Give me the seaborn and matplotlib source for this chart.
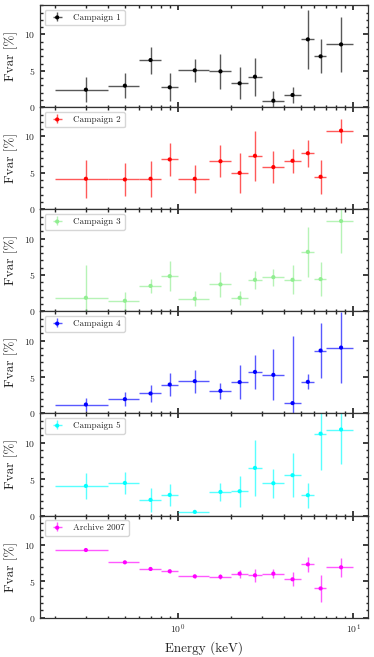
import matplotlib
matplotlib.use("Agg")
import matplotlib.pyplot as plt
from matplotlib.ticker import MultipleLocator
from matplotlib.legend_handler import HandlerTuple
import seaborn as sns

energy = [0.3, 0.5, 0.7, 0.9, 1.25, 1.75, 2.25, 2.75, 3.5, 4.5, 5.5, 6.5, 8.5]
energy_halfwidth = [0.1, 0.1, 0.1, 0.1, 0.25, 0.25, 0.25, 0.25, 0.5, 0.5, 0.5, 0.5, 1.5]

labels = ["Campaign 1", "Campaign 2", "Campaign 3", "Campaign 4", "Campaign 5", "Archive 2007"]
colors = ["black", "red", "lightgreen", "blue", "cyan", "magenta"]

fvar_c1 = [2.42, 2.97, 6.48, 2.74, 5.07, 4.93, 3.29, 4.2, 0.91, 1.69, 9.32, 6.99, 8.63]
err_c1 = [1.7, 1.75, 1.85, 1.9, 1.55, 2.45, 2.2, 2.6, 1.3, 1.05, 4.0, 2.35, 3.75]

fvar_c2 = [4.2, 4.1, 4.2, 6.85, 4.2, 6.6, 5.0, 7.35, 5.8, 6.67, 7.7, 4.47, 10.8]
err_c2 = [2.6, 2.3, 2.5, 2.3, 1.95, 2.2, 2.7, 3.4, 2.15, 1.65, 1.85, 2.3, 1.65]

fvar_c3 = [1.87, 1.46, 3.5, 4.84, 1.74, 3.7, 1.87, 4.34, 4.7, 4.34, 8.17, 4.43, 12.4]
err_c3 = [4.5, 1.2, 1.0, 2.1, 1.0, 1.75, 0.95, 1.2, 1.15, 2.0, 3.45, 2.3, 4.4]

fvar_c4 = [1.23, 1.96, 2.74, 3.97, 4.43, 3.1, 4.3, 5.7, 5.3, 1.42, 4.34, 8.63, 9.04]
err_c4 = [0.9, 0.95, 1.2, 1.6, 1.6, 1.05, 2.35, 2.35, 3.5, 9.2, 1.05, 3.8, 4.9]

fvar_c5 = [4.06, 4.47, 2.15, 2.83, 0.5, 3.24, 3.33, 6.53, 4.43, 5.53, 2.79, 11.23, 11.8]
err_c5 = [1.75, 1.45, 1.6, 1.5, 0.1, 1.25, 2.15, 3.85, 2.0, 3.05, 1.7, 5.0, 4.8]

fvar_a7 = [9.27, 7.58, 6.67, 6.35, 5.66, 5.6, 6.03, 5.8, 6.03, 5.25, 7.3, 4.0, 6.9]
err_a7 = [0.1, 0.15, 0.2, 0.3, 0.2, 0.35, 0.55, 0.9, 0.65, 0.95, 1.0, 1.85, 1.3]

fvars = [fvar_c1, fvar_c2, fvar_c3, fvar_c4, fvar_c5, fvar_a7]
errs = [err_c1, err_c2, err_c3, err_c4, err_c5, err_a7]

sns.set_theme(style="ticks")
plt.rcParams.update({
    "font.family": ["cmr10", "DejaVu Serif"],
    "mathtext.fontset": "cm",
    "axes.formatter.use_mathtext": True,
    "xtick.direction": "in",
    "ytick.direction": "in",
    "xtick.top": True,
    "ytick.right": True,
    "xtick.major.size": 3.5,
    "ytick.major.size": 3.5,
    "xtick.minor.size": 1.8,
    "ytick.minor.size": 1.8,
    "xtick.labelsize": 7,
    "ytick.labelsize": 7,
    "axes.edgecolor": "0.2",
    "axes.linewidth": 0.9,
})

fig, axes = plt.subplots(6, 1, figsize=(3.74, 6.57), dpi=100, sharex=True)
fig.subplots_adjust(left=0.107, right=0.985, top=0.992, bottom=0.06, hspace=0)

for ax, lab, col, fv, er in zip(axes, labels, colors, fvars, errs):
    eb = ax.errorbar(energy, fv, xerr=energy_halfwidth, yerr=er, fmt="none",
                     ecolor=col, elinewidth=1.0, alpha=0.65, zorder=2)
    sns.scatterplot(x=energy, y=fv, ax=ax, color=col, marker="o", s=9,
                    edgecolor="none", legend=False, zorder=3)
    pts = ax.collections[-1]
    ax.set_xscale("log")
    ax.set_ylim(0, 14)
    ax.yaxis.set_major_locator(MultipleLocator(5))
    ax.yaxis.set_minor_locator(MultipleLocator(1))
    ax.tick_params(which="both", top=True, right=True, direction="in")
    ax.set_ylabel("Fvar [%]", fontsize=9.5, labelpad=4)
    leg = ax.legend([(eb, pts)], [lab], loc="upper left", fontsize=6.5,
                    handler_map={tuple: HandlerTuple(ndivide=1)},
                    frameon=True)
    leg.get_frame().set_edgecolor("0.8")

axes[-1].set_xlabel("Energy (keV)", fontsize=9.5)
fig.savefig("out.png", dpi=100)
